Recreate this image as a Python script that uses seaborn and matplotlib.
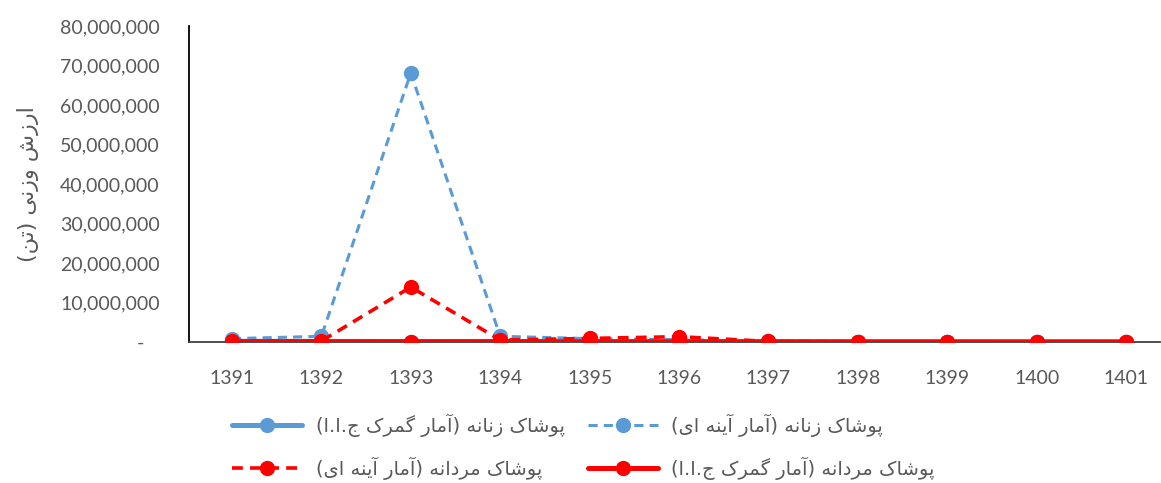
import matplotlib
matplotlib.use("Agg")
import matplotlib.pyplot as plt
from matplotlib.ticker import FuncFormatter
import pandas as pd
import seaborn as sns

# ---- data -------------------------------------------------------------
years = [1391, 1392, 1393, 1394, 1395, 1396, 1397, 1398, 1399, 1400, 1401]
women_customs = [180000, 150000, 120000, 140000, 110000, 90000, 70000, 50000, 40000, 30000, 25000]
women_mirror = [850000, 1450000, 68100000, 1450000, 850000, 600000, 250000, 60000, 40000, 30000, 30000]
men_mirror = [300000, 250000, 13900000, 500000, 900000, 1350000, 150000, 50000, 30000, 20000, 20000]
men_customs = [90000, 80000, 60000, 70000, 60000, 50000, 40000, 30000, 25000, 20000, 15000]

label_women_customs = "پوشاک زنانه (آمار گمرک ج.ا.ا)"
label_women_mirror = "پوشاک زنانه (آمار آینه ای)"
label_men_mirror = "پوشاک مردانه (آمار آینه ای)"
label_men_customs = "پوشاک مردانه (آمار گمرک ج.ا.ا)"
y_title = "ارزش وزنی (تن)"

# ---- Persian shaping (matplotlib has no complex text layout) ----------
FORMS = {
    "ا": ("\uFE8D", "\uFE8E"), "آ": ("\uFE81", "\uFE82"),
    "د": ("\uFEA9", "\uFEAA"), "ر": ("\uFEAD", "\uFEAE"),
    "ز": ("\uFEAF", "\uFEB0"), "و": ("\uFEED", "\uFEEE"),
    "ب": ("\uFE8F", "\uFE90", "\uFE91", "\uFE92"),
    "پ": ("\uFB56", "\uFB57", "\uFB58", "\uFB59"),
    "ت": ("\uFE95", "\uFE96", "\uFE97", "\uFE98"),
    "ج": ("\uFE9D", "\uFE9E", "\uFE9F", "\uFEA0"),
    "ش": ("\uFEB5", "\uFEB6", "\uFEB7", "\uFEB8"),
    "ک": ("\uFB8E", "\uFB8F", "\uFB90", "\uFB91"),
    "گ": ("\uFB92", "\uFB93", "\uFB94", "\uFB95"),
    "م": ("\uFEE1", "\uFEE2", "\uFEE3", "\uFEE4"),
    "ن": ("\uFEE5", "\uFEE6", "\uFEE7", "\uFEE8"),
    "ه": ("\uFEE9", "\uFEEA", "\uFEEB", "\uFEEC"),
    "ی": ("\uFBFC", "\uFBFD", "\uFBFE", "\uFBFF"),
}
MIRROR = {"(": ")", ")": "("}


def rtl(text):
    shaped = []
    for i, ch in enumerate(text):
        f = FORMS.get(ch)
        if f is None:
            shaped.append(ch)
            continue
        prev = text[i - 1] if i > 0 else ""
        nxt = text[i + 1] if i + 1 < len(text) else ""
        join_prev = prev in FORMS and len(FORMS[prev]) == 4
        join_next = len(f) == 4 and nxt in FORMS
        if join_prev and join_next:
            shaped.append(f[3])
        elif join_prev:
            shaped.append(f[1])
        elif join_next:
            shaped.append(f[2])
        else:
            shaped.append(f[0])
    return "".join(MIRROR.get(c, c) for c in reversed(shaped))


# ---- styling ------------------------------------------------------------
sns.set_style("white")
plt.rcParams["font.family"] = ["Lato", "DejaVu Sans"]
grey = "#595959"
blue = "#5B9BD5"
red = "#FF0000"

fig = plt.figure(figsize=(11.61, 4.83), dpi=100)
W, H = 1161, 483
ax = fig.add_axes([189 / W, 1 - 342 / H, (1160 - 189) / W, (342 - 26) / H])

df = pd.DataFrame({
    "year": years,
    "women_customs": women_customs,
    "women_mirror": women_mirror,
    "men_mirror": men_mirror,
    "men_customs": men_customs,
})

series = [
    ("women_customs", label_women_customs, blue, "-", 3.6, 1),
    ("women_mirror", label_women_mirror, blue, (0, (3, 2)), 2.2, 2),
    ("men_mirror", label_men_mirror, red, (0, (3, 2)), 2.6, 3),
    ("men_customs", label_men_customs, red, "-", 3.6, 4),
]
handles = {}
for col, lab, color, ls, lw, z in series:
    sns.lineplot(data=df, x="year", y=col, ax=ax, color=color, linestyle=ls,
                 linewidth=lw, marker="o", markersize=11, markeredgewidth=0,
                 label=rtl(lab), zorder=z)
    handles[col] = ax.get_lines()[-1]

ax.set_xlim(years[0] - 0.481, years[-1] + 0.38)
ax.set_ylim(0, 80000000)
ax.set_xticks(years)
ax.set_xticklabels([str(y) for y in years])
ax.set_yticks(range(0, 80000001, 10000000))
ax.yaxis.set_major_formatter(
    FuncFormatter(lambda v, p: "-   " if v == 0 else f"{v:,.0f}"))
ax.tick_params(axis="both", length=0, labelsize=14, colors=grey)
ax.tick_params(axis="x", pad=20)
ax.tick_params(axis="y", pad=21)
ax.set_xlabel("")
ax.set_ylabel("")

for s in ["top", "right"]:
    ax.spines[s].set_visible(False)
ax.spines["left"].set_color("black")
ax.spines["left"].set_linewidth(1.3)
ax.spines["bottom"].set_color("#404040")
ax.spines["bottom"].set_linewidth(1.3)

fig.text(28 / W, 1 - 184 / H, rtl(y_title), rotation=90, ha="center",
         va="center", fontsize=16, color=grey, family="DejaVu Sans")

ax.get_legend().remove()
order = ["women_customs", "men_mirror", "women_mirror", "men_customs"]
labels = {c: rtl(l) for c, l, *_ in series}
leg = fig.legend([handles[c] for c in order], [labels[c] for c in order],
                 ncol=2, loc="upper left",
                 bbox_to_anchor=(232 / W, 1 - 414 / H),
                 frameon=False, borderpad=0, borderaxespad=0,
                 handlelength=3.6, handletextpad=0.7, columnspacing=1.2,
                 labelspacing=1.0,
                 prop={"family": "DejaVu Sans", "size": 14})
for t in leg.get_texts():
    t.set_color(grey)

fig.savefig("out.png", dpi=100)
